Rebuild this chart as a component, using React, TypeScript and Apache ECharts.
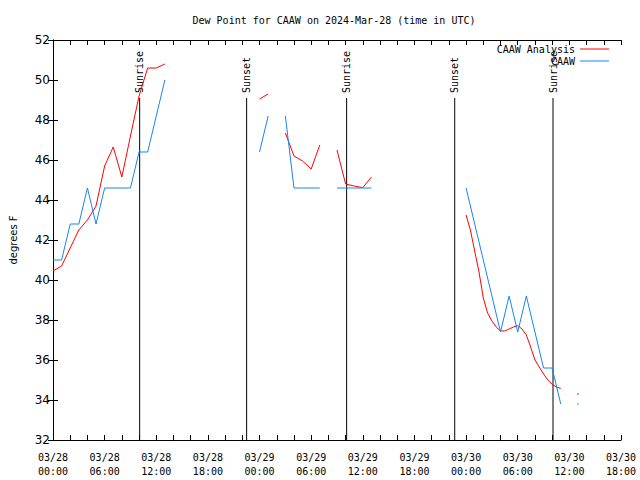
import React, { useEffect, useRef } from 'react';
import * as echarts from 'echarts';

// x axis: hours since 2024-03-28 00:00 UTC
const X_MIN = 0;
const X_MAX = 66;
const Y_MIN = 32;
const Y_MAX = 52;
const SUN_LINE_TOP = 49.1;

const xTickLabels = [
  '03/28\n00:00', '03/28\n06:00', '03/28\n12:00', '03/28\n18:00',
  '03/29\n00:00', '03/29\n06:00', '03/29\n12:00', '03/29\n18:00',
  '03/30\n00:00', '03/30\n06:00', '03/30\n12:00', '03/30\n18:00',
];

// CAAW observations, hourly from hour 0
const obsDewF: (number | null)[] = [
  41.0, 41.0, 42.8, 42.8, 44.6, 42.8, 44.6, 44.6, 44.6, 44.6, 46.4, 46.4, 48.2, 50.0,
  null, null, null, null, null, null, null, null, null, null,
  46.4, 48.2,
  null,
  48.2, 44.6, 44.6, 44.6, 44.6,
  null,
  44.6, 44.6, 44.6, 44.6, 44.6,
  null, null, null, null, null, null, null, null, null, null,
  44.6, 42.8, 41.0, 39.2, 37.4, 39.2, 37.4, 39.2, 37.4, 35.6, 35.6, 33.8,
  null,
  33.8,
];

// CAAW Analysis
const analysisHours = [
  0, 1, 2, 3, 4, 5, 6, 7, 8, 9, 10, 11, 12, 13, 14,
  24, 25, 26,
  27, 28, 29, 30, 31, 32,
  33, 34, 35, 36, 37, 38,
  48, 48.5, 49, 49.5, 50, 50.5, 51, 51.5, 52, 52.5, 53, 53.5, 54, 54.5, 55, 55.5, 56, 56.5, 57, 57.5, 58, 58.5, 59, 60,
  61,
];
const analysisDewF: (number | null)[] = [
  40.45, 40.7, 41.6, 42.5, 43.0, 43.7, 45.7, 46.65, 45.15, 47.2, 49.2, 50.6, 50.6, 50.8, null,
  49.05, 49.3, null,
  47.35, 46.2, 45.95, 45.55, 46.75, null,
  46.5, 44.8, 44.7, 44.62, 45.15, null,
  43.25, 42.5, 41.45, 40.4, 39.1, 38.35, 37.95, 37.65, 37.45, 37.45, 37.55, 37.65, 37.72, 37.55, 37.25, 36.65, 36.0, 35.65, 35.3, 35.0, 34.78, 34.65, 34.58, null,
  34.3,
];

const sunHours = [10.07, 22.5, 34.12, 46.68, 58.1];
const sunLabels = ['Sunrise', 'Sunset', 'Sunrise', 'Sunset', 'Sunrise'];

const RED = '#ff0000';
const BLUE = '#1a84ee';
const MONO = '"DejaVu Sans Mono", monospace';
const SANS = '"DejaVu Sans", sans-serif';

function toPairs(hours: number[], vals: (number | null)[]) {
  return hours.map((h, i) => [h, vals[i] == null ? '-' : vals[i]]);
}
function isolated(hours: number[], vals: (number | null)[]) {
  const out: number[][] = [];
  vals.forEach((v, i) => {
    if (v == null) return;
    const prev = i > 0 ? vals[i - 1] : null;
    const next = i < vals.length - 1 ? vals[i + 1] : null;
    if (prev == null && next == null) out.push([hours[i], v]);
  });
  return out;
}

export default function App() {
  const ref = useRef<HTMLDivElement>(null);
  useEffect(() => {
    if (!ref.current) return;
    const chart = echarts.init(ref.current, undefined, { renderer: 'svg' });
    const obsHours = obsDewF.map((_, i) => i);
    const axisLineStyle = { lineStyle: { color: '#000', width: 1 } };
    const option: any = {
      animation: false,
      backgroundColor: '#fff',
      title: {
        text: 'Dew Point for CAAW on 2024-Mar-28 (time in UTC)',
        left: 334,
        textAlign: 'center',
        top: 14,
        padding: 0,
        textStyle: { fontFamily: MONO, fontSize: 10, fontWeight: 'normal', color: '#000', lineHeight: 12 },
      },
      legend: [
        {
          data: ['CAAW Analysis'], right: 31, top: 43, align: 'right', orient: 'vertical',
          icon: 'rect', itemWidth: 29, itemHeight: 1, padding: 0, itemGap: 0,
          textStyle: { fontFamily: MONO, fontSize: 10, color: '#000', lineHeight: 12 },
        },
        {
          data: ['CAAW'], right: 31, top: 55, align: 'right', orient: 'vertical',
          icon: 'rect', itemWidth: 29, itemHeight: 1, padding: 0, itemGap: 0,
          textStyle: { fontFamily: MONO, fontSize: 10, color: '#000', lineHeight: 12 },
        },
      ],
      grid: { left: 47, right: 19, top: 40, bottom: 40, containLabel: false },
      xAxis: [
        {
          type: 'value', min: X_MIN, max: X_MAX, interval: 6, position: 'bottom',
          axisLine: axisLineStyle,
          axisTick: { inside: true, length: 5, lineStyle: { color: '#000' } },
          minorTick: { show: true, splitNumber: 3, length: 5, lineStyle: { color: '#000' } },
          splitLine: { show: false },
          axisLabel: {
            formatter: (v: number) => xTickLabels[Math.round(v / 6)] ?? '',
            fontFamily: MONO, fontSize: 10, color: '#000', lineHeight: 14, margin: 10,
          },
        },
        {
          type: 'value', min: X_MIN, max: X_MAX, interval: 6, position: 'top',
          axisLine: axisLineStyle,
          axisTick: { inside: true, length: 5, lineStyle: { color: '#000' } },
          minorTick: { show: true, splitNumber: 3, length: 5, lineStyle: { color: '#000' } },
          splitLine: { show: false },
          axisLabel: { show: false },
        },
      ],
      yAxis: [
        {
          type: 'value', min: Y_MIN, max: Y_MAX, interval: 2, position: 'left',
          name: 'degrees F', nameLocation: 'middle', nameGap: 35,
          nameTextStyle: { fontFamily: SANS, fontSize: 10, color: '#000' },
          axisLine: { show: true, ...axisLineStyle },
          axisTick: { show: true, inside: true, length: 5, lineStyle: { color: '#000' } },
          splitLine: { show: false },
          axisLabel: { fontFamily: SANS, fontSize: 12, color: '#000', margin: 3 },
        },
        {
          type: 'value', min: Y_MIN, max: Y_MAX, interval: 2, position: 'right',
          axisLine: { show: true, ...axisLineStyle },
          axisTick: { show: true, inside: true, length: 5, lineStyle: { color: '#000' } },
          splitLine: { show: false },
          axisLabel: { show: false },
        },
      ],
      series: [
        {
          type: 'custom',
          name: 'sun',
          silent: true,
          xAxisIndex: 0,
          yAxisIndex: 0,
          data: sunHours.map((h) => [h]),
          encode: { x: 0 },
          renderItem: (params: any, api: any) => {
            const h = api.value(0);
            const p0 = api.coord([h, Y_MIN]);
            const p1 = api.coord([h, SUN_LINE_TOP]);
            return {
              type: 'group',
              children: [
                {
                  type: 'line',
                  shape: { x1: p0[0], y1: p0[1], x2: p1[0], y2: p1[1] },
                  style: { stroke: '#000', lineWidth: 1 },
                },
                {
                  type: 'text',
                  x: p1[0],
                  y: p1[1] - 5,
                  rotation: Math.PI / 2,
                  style: {
                    text: sunLabels[params.dataIndex],
                    fill: '#000',
                    font: '10px ' + MONO,
                    align: 'left',
                    verticalAlign: 'middle',
                    textAlign: 'left',
                    textVerticalAlign: 'middle',
                  },
                },
              ],
            };
          },
        },
        {
          type: 'line', name: 'CAAW Analysis', color: RED,
          data: toPairs(analysisHours, analysisDewF),
          showSymbol: false, connectNulls: false,
          lineStyle: { width: 1, color: RED },
        },
        {
          type: 'line', name: 'CAAW', color: BLUE,
          data: toPairs(obsHours, obsDewF),
          showSymbol: false, connectNulls: false,
          lineStyle: { width: 1, color: BLUE },
        },
        {
          type: 'scatter', name: 'analysis-dot', color: RED, symbol: 'rect', symbolSize: 1.5,
          data: isolated(analysisHours, analysisDewF), silent: true,
        },
        {
          type: 'scatter', name: 'obs-dot', color: BLUE, symbol: 'rect', symbolSize: 1.5,
          data: isolated(obsHours, obsDewF), silent: true,
        },
      ],
    };
    chart.setOption(option);
    return () => chart.dispose();
  }, []);
  return (
    <div
      ref={ref}
      style={{ position: 'absolute', left: 0, top: 0, width: 640, height: 480, background: '#fff' }}
    />
  );
}
